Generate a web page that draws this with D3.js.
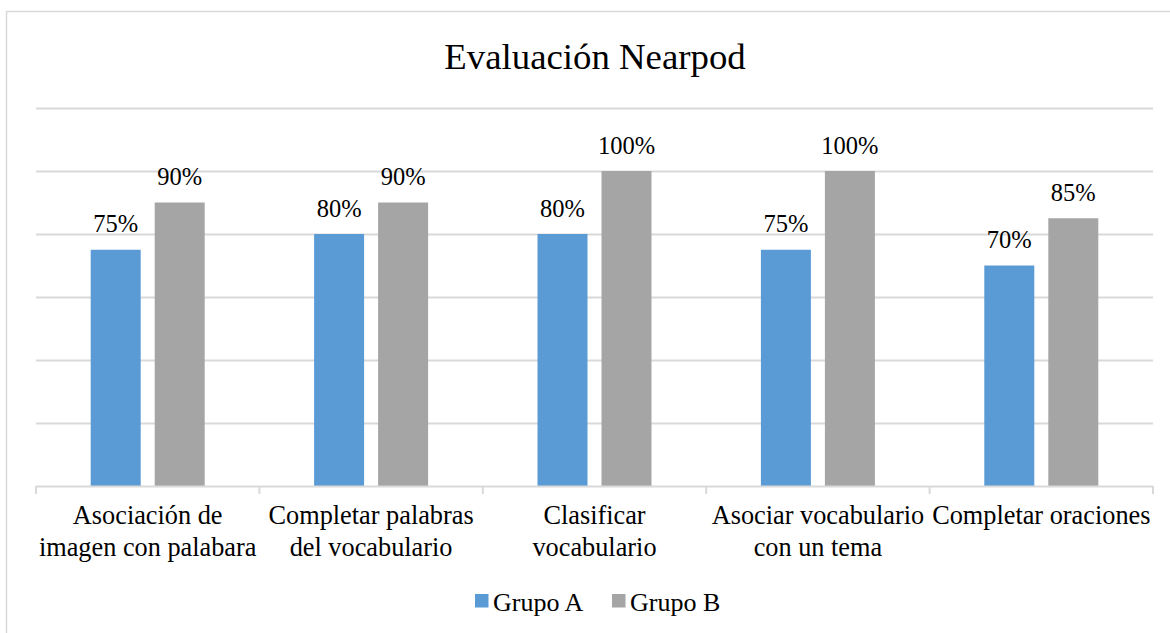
<!DOCTYPE html>
<html>
<head>
<meta charset="utf-8">
<script src="https://cdn.jsdelivr.net/npm/d3@7/dist/d3.min.js"></script>
<style>
  body { margin: 0; background: #fff; }
</style>
</head>
<body>
<svg id="chart" width="1170" height="633" font-family="'Liberation Serif', 'Times New Roman', Tinos, 'DejaVu Serif', serif"></svg>
<script>
const categories = [
  "Asociación de imagen con palabara",
  "Completar palabras del vocabulario",
  "Clasificar vocabulario",
  "Asociar vocabulario con un tema",
  "Completar oraciones"
];
const categoryLines = [
  ["Asociación de", "imagen con palabara"],
  ["Completar palabras", "del vocabulario"],
  ["Clasificar", "vocabulario"],
  ["Asociar vocabulario", "con un tema"],
  ["Completar oraciones"]
];
const seriesNames = ["Grupo A", "Grupo B"];
const grupoA = [75, 80, 80, 75, 70];
const grupoB = [90, 90, 100, 100, 85];
const yTicks = [0, 20, 40, 60, 80, 100, 120];

const colors = ["#5b9bd5", "#a5a5a5"];
const plot = { left: 36, right: 1153, top: 108, bottom: 486 };

const svg = d3.select("#chart");

// chart border
svg.append("rect")
  .attr("x", 6.5).attr("y", 11.5)
  .attr("width", 1170).attr("height", 633)
  .attr("fill", "#fff").attr("stroke", "#d9d9d9").attr("stroke-width", 1.5);

svg.append("text")
  .attr("x", 595).attr("y", 69)
  .attr("text-anchor", "middle")
  .attr("font-size", 36.8)
  .text("Evaluación Nearpod");

const x = d3.scaleBand().domain(categories).range([plot.left, plot.right]);
const y = d3.scaleLinear().domain([0, 120]).range([plot.bottom, plot.top]);

// gridlines
svg.append("g")
  .selectAll("line")
  .data(yTicks.filter(d => d > 0))
  .join("line")
  .attr("x1", plot.left).attr("x2", plot.right)
  .attr("y1", d => Math.round(y(d)) + 0.5).attr("y2", d => Math.round(y(d)) + 0.5)
  .attr("stroke", "#d9d9d9").attr("stroke-width", 2);

const barW = 50, gap = 14;
const rows = categories.map((c, i) => ({ c, vals: [grupoA[i], grupoB[i]] }));

const groups = svg.append("g").selectAll("g")
  .data(rows)
  .join("g")
  .attr("transform", d => `translate(${x(d.c) + x.bandwidth() / 2},0)`);

const bars = groups.selectAll("g")
  .data(d => d.vals.map((v, k) => ({ v, k })))
  .join("g");

bars.append("rect")
  .attr("x", d => d.k === 0 ? -barW - gap / 2 : gap / 2)
  .attr("y", d => y(d.v))
  .attr("width", barW)
  .attr("height", d => y(0) - y(d.v))
  .attr("fill", d => colors[d.k]);

bars.append("text")
  .attr("x", d => (d.k === 0 ? -barW - gap / 2 : gap / 2) + barW / 2)
  .attr("y", d => y(d.v) - 17.5)
  .attr("text-anchor", "middle")
  .attr("font-size", 24.5)
  .text(d => d.v + "%");

// x axis
const xAxis = svg.append("g");
xAxis.append("line")
  .attr("x1", plot.left).attr("x2", plot.right)
  .attr("y1", plot.bottom + 0.5).attr("y2", plot.bottom + 0.5)
  .attr("stroke", "#d9d9d9").attr("stroke-width", 2);
xAxis.selectAll("line.tick")
  .data(categories.map(c => x(c)).concat([plot.right]))
  .join("line")
  .attr("class", "tick")
  .attr("x1", d => d).attr("x2", d => d)
  .attr("y1", plot.bottom).attr("y2", plot.bottom + 8)
  .attr("stroke", "#d9d9d9").attr("stroke-width", 2);

// category labels
categories.forEach((c, i) => {
  const t = svg.append("text")
    .attr("text-anchor", "middle")
    .attr("font-size", 26.3);
  categoryLines[i].forEach((l, j) => {
    t.append("tspan")
      .attr("x", x(c) + x.bandwidth() / 2)
      .attr("y", 524 + j * 31.5)
      .text(l);
  });
});

// legend
const legend = svg.append("g");
const legendX = [475, 612];
seriesNames.forEach((s, i) => {
  legend.append("rect")
    .attr("x", legendX[i]).attr("y", 594)
    .attr("width", 13.5).attr("height", 13.5)
    .attr("fill", colors[i]);
  legend.append("text")
    .attr("x", legendX[i] + 18).attr("y", 611)
    .attr("font-size", 26)
    .text(s);
});
</script>
</body>
</html>
